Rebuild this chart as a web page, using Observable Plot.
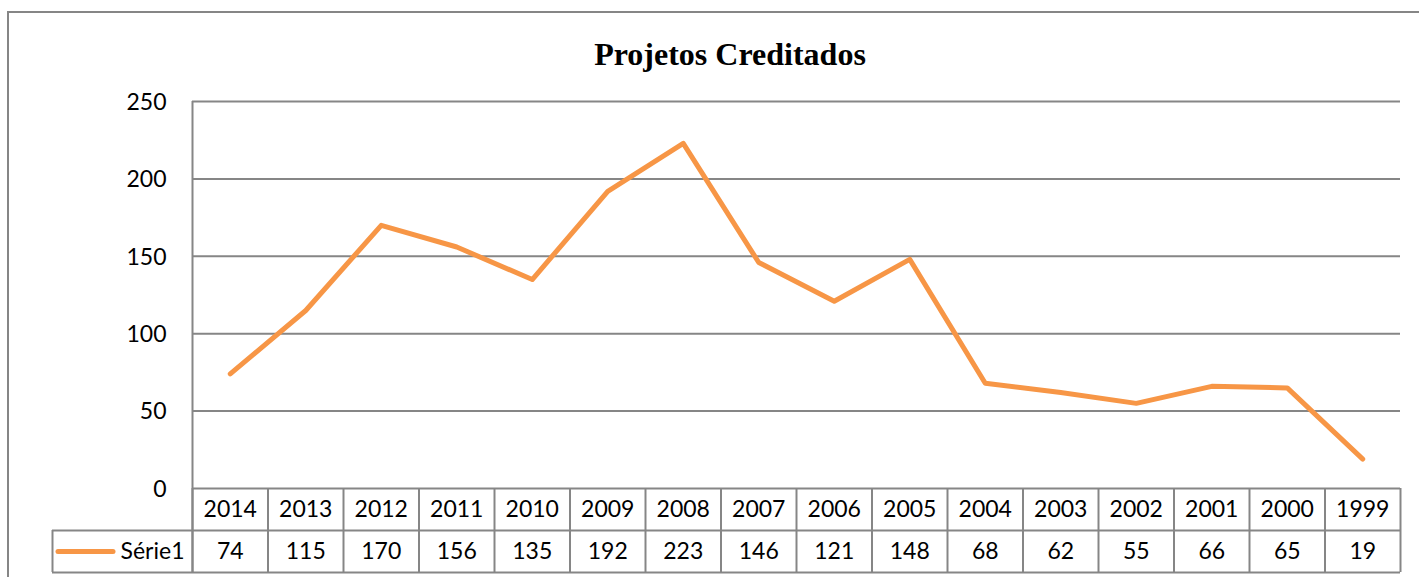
<!DOCTYPE html>
<html>
<head>
<meta charset="utf-8">
<script src="https://cdn.jsdelivr.net/npm/d3@7"></script>
<script src="https://cdn.jsdelivr.net/npm/@observablehq/plot@0.6"></script>
<style>
  html, body { margin: 0; padding: 0; background: #fff; overflow: hidden; width: 1419px; height: 577px; }
  #wrap { position: relative; width: 1419px; height: 577px; overflow: hidden; }
  #border { position: absolute; left: 7px; top: 11px; width: 1500px; height: 700px; border: 2px solid #868686; box-sizing: border-box; }
  #title { position: absolute; left: 7px; width: 1446px; top: 36px; text-align: center; line-height: 36px;
           font-family: "Liberation Serif", "Times New Roman", serif; font-weight: bold; font-size: 32px; color: #000; }
  #chart { position: absolute; left: 0; top: 0; }
</style>
</head>
<body>
<div id="wrap">
  <div id="border"></div>
  <div id="title">Projetos Creditados</div>
  <div id="chart"></div>
</div>
<script>
const title = "Projetos Creditados";
const seriesName = "Série1";
const years = ["2014","2013","2012","2011","2010","2009","2008","2007","2006","2005","2004","2003","2002","2001","2000","1999"];
const values = [74, 115, 170, 156, 135, 192, 223, 146, 121, 148, 68, 62, 55, 66, 65, 19];
const yTicks = [0, 50, 100, 150, 200, 250];

const lineColor = "#F79646";
const gridColor = "#868686";
const font = "Lato, 'Open Sans', sans-serif";

const data = years.map((year, i) => ({year, value: values[i], i}));
const edges = d3.range(years.length + 1).map(i => i - 0.5);

const plot = Plot.plot({
  width: 1419,
  height: 577,
  marginLeft: 192,
  marginRight: 19,
  marginTop: 101,
  marginBottom: 89,
  style: {fontFamily: font, fontSize: "23px", color: "#000", background: "transparent", overflow: "visible"},
  x: {type: "linear", domain: [-0.5, years.length - 0.5], axis: null},
  y: {domain: [0, 250], ticks: yTicks, axis: null},
  marks: [
    Plot.gridY(yTicks, {stroke: gridColor, strokeOpacity: 1, strokeWidth: 2}),
    Plot.axisY(yTicks, {tickSize: 0, tickPadding: 26, fontSize: 23, fill: "#000", label: null, dy: 1}),
    // left axis line, running down through the table
    Plot.ruleX([-0.5], {stroke: gridColor, strokeWidth: 2, insetBottom: -84}),
    // table column edges (header + data rows)
    Plot.ruleX(edges, {x: d => d, y1: 0, y2: 0, insetBottom: -84, stroke: gridColor, strokeWidth: 2}),
    // legend cell left edge (data row only)
    Plot.ruleX([-0.5], {x: d => d, y1: 0, y2: 0, insetTop: 42, insetBottom: -84, dx: -140, stroke: gridColor, strokeWidth: 2}),
    // horizontal table lines
    Plot.ruleY([0], {dy: 42, insetLeft: -140, stroke: gridColor, strokeWidth: 2}),
    Plot.ruleY([0], {dy: 84, insetLeft: -140, stroke: gridColor, strokeWidth: 2}),
    // table text
    Plot.text(data, {x: "i", text: "year", frameAnchor: "bottom", dy: 28, fontSize: 23, fill: "#000"}),
    Plot.text(data, {x: "i", text: d => String(d.value), frameAnchor: "bottom", dy: 70, fontSize: 23, fill: "#000"}),
    // legend key in table
    Plot.ruleY([0], {x1: -0.5, x2: -0.5, insetLeft: -134, insetRight: 79, dy: 63, stroke: lineColor, strokeWidth: 5, strokeLinecap: "round"}),
    Plot.text([seriesName], {x: -0.5, frameAnchor: "bottom", dy: 70, dx: -8, textAnchor: "end", fontSize: 23, fill: "#000", text: d => d}),
    // the series line
    Plot.line(data, {x: "i", y: "value", stroke: lineColor, strokeWidth: 5, strokeLinejoin: "round", strokeLinecap: "round"})
  ]
});
document.getElementById("chart").appendChild(plot);
</script>
</body>
</html>
